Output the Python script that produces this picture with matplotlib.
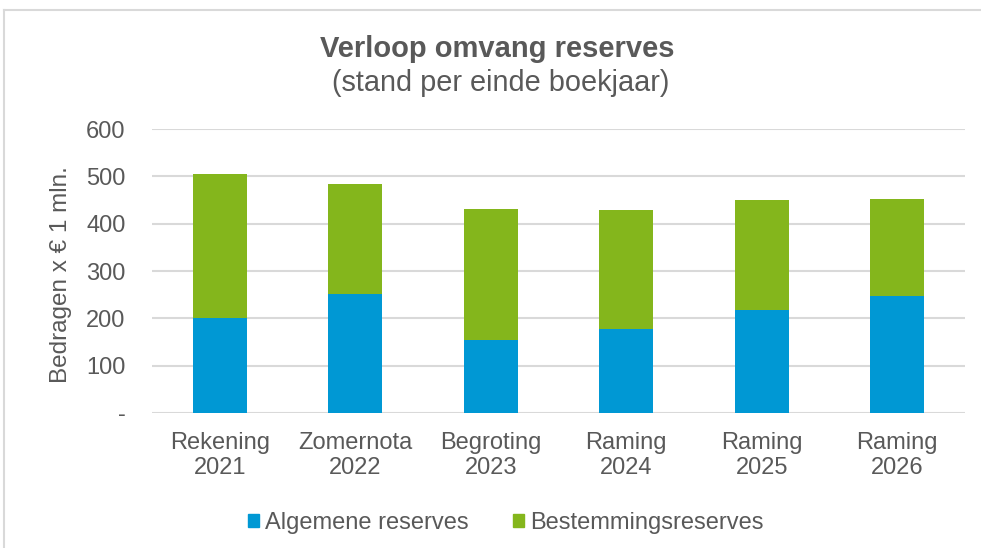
import numpy as np
import matplotlib.pyplot as plt
from matplotlib.lines import Line2D
from matplotlib.patches import Patch

plt.rcParams['font.family'] = ['Liberation Sans', 'DejaVu Sans']

categories = ["Rekening\n2021", "Zomernota\n2022", "Begroting\n2023",
              "Raming\n2024", "Raming\n2025", "Raming\n2026"]
algemene = [200, 252, 155, 178, 217, 247]
bestemming = [304, 231, 277, 250, 232, 206]
yticks = [0, 100, 200, 300, 400, 500, 600]
ytick_labels = ["-", "100", "200", "300", "400", "500", "600"]

blue = "#0098D4"
green = "#84B61C"
grey_text = "#595959"
grid_col = "#D9D9D9"

W, H = 981, 548
fig = plt.figure(figsize=(W / 100, H / 100), dpi=100)
ax = fig.add_axes([152 / W, 1 - 413 / H, 813 / W, 284 / H])

x = np.arange(len(categories))
ax.bar(x, algemene, width=0.4, color=blue, zorder=3)
ax.bar(x, bestemming, width=0.4, bottom=algemene, color=green, zorder=3)

ax.set_xlim(-0.5, len(categories) - 0.5)
ax.set_ylim(0, 600)
ax.set_yticks(yticks)
ax.set_yticklabels(ytick_labels)
ax.set_xticks(x)
ax.set_xticklabels(categories, linespacing=1.15)
ax.grid(axis="y", color=grid_col, linewidth=1.5, zorder=0)
for s in ax.spines.values():
    s.set_visible(False)
ax.tick_params(length=0, labelsize=17, colors=grey_text)
ax.tick_params(axis="y", pad=19)
ax.tick_params(axis="x", pad=14)
ax.set_ylabel("Bedragen x € 1 mln.", fontsize=17.5, color=grey_text)
ax.yaxis.set_label_coords(-0.099, 0.486)

fig.text(0.507, 1 - 49 / H, "Verloop omvang reserves", ha="center", va="center",
         fontsize=21, fontweight="bold", color=grey_text)
fig.text(0.510, 1 - 83 / H, "(stand per einde boekjaar)", ha="center", va="center",
         fontsize=20.8, color=grey_text)

handles = [Patch(color=blue), Patch(color=green)]
fig.legend(handles, ["Algemene reserves", "Bestemmingsreserves"], loc="center",
           bbox_to_anchor=(506 / W, 1 - 523 / H), ncol=2, frameon=False,
           fontsize=17, labelcolor=grey_text, handlelength=0.45, handleheight=0.45,
           handletextpad=0.25, columnspacing=1.9)

# outer chart border (top and left visible in the reference)
fig.add_artist(Line2D([4 / W, 1], [1 - 10 / H, 1 - 10 / H], color=grid_col, lw=1.5))
fig.add_artist(Line2D([4 / W, 4 / W], [0, 1 - 10 / H], color=grid_col, lw=1.5))

fig.savefig("out.png", dpi=100)
